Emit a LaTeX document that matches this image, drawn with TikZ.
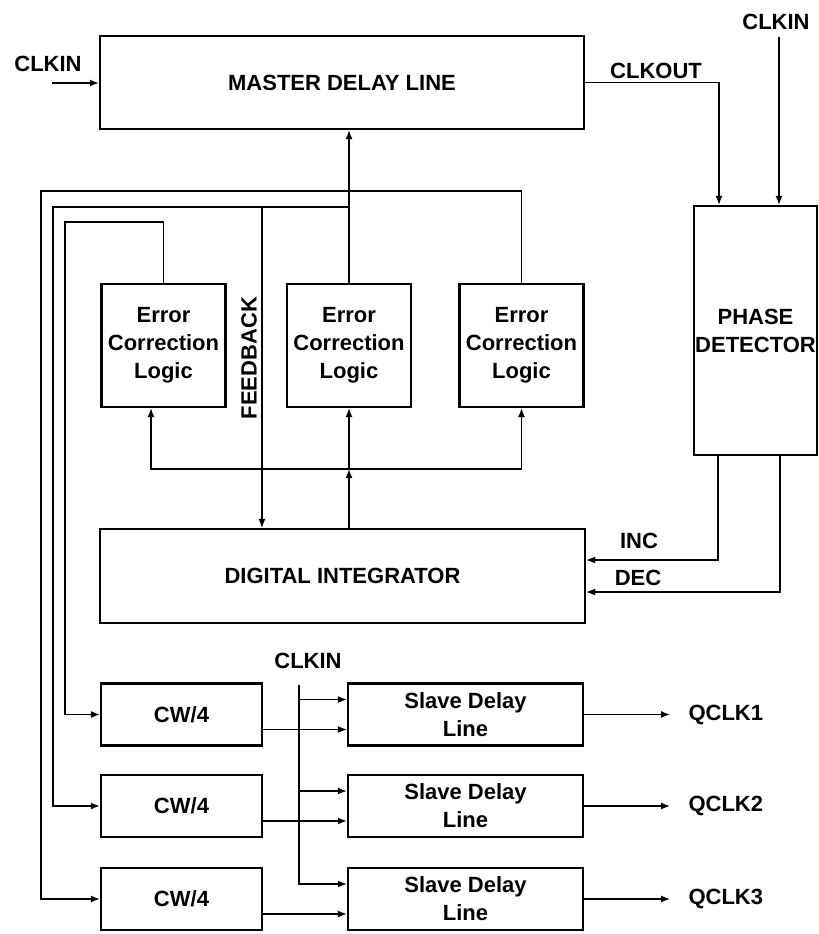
\documentclass[tikz,border=0pt]{standalone}
\usepackage{fontspec}
\setmainfont{Liberation Sans}
\usetikzlibrary{positioning, arrows.meta, calc}

\begin{document}
\begin{tikzpicture}[
		x=0.5pt, y=-0.5pt,
		font=\fontsize{11}{14}\selectfont\bfseries,
		box/.style={rectangle, draw, line width=1.1pt, inner sep=0pt, align=center},
		master/.style={box, minimum width=242pt, minimum height=46.5pt},
		ecl/.style={box, minimum width=62pt, minimum height=61.5pt},
		cw/.style={box, minimum width=80.5pt, minimum height=31pt},
		slave/.style={box, minimum width=117.5pt, minimum height=31pt},
		arrow/.style={-{Latex[length=4.5pt, width=3.5pt]}, line width=0.75pt},
		lbl/.style={inner sep=0pt},
		]
		\useasboundingbox (0,0) rectangle (819,934);
		
		% Master delay line and phase detector
		\node[master] (master) at (342,82.5) {MASTER DELAY LINE};
		\node[box, minimum width=61.5pt, minimum height=124.5pt] (pd) at (755.5,330.5) {PHASE\\DETECTOR};
		
		% Error correction
		\node[ecl] (ecl1) at (163.5,345.5) {Error\\Correction\\Logic};
		\node[ecl] (ecl2) at (349,345.5) {Error\\Correction\\Logic};
		\node[ecl] (ecl3) at (521.5,345.5) {Error\\Correction\\Logic};
		
		% Digital integrator
		\node[master, minimum width=242.5pt, minimum height=47pt] (di) at (342.5,576) {DIGITAL INTEGRATOR};
		
		% CW/4 and slave lines
		\node[cw] (cw1) at (181.5,714.5) {CW/4};
		\node[cw] (cw2) at (181.5,806) {CW/4};
		\node[cw] (cw3) at (181.5,899) {CW/4};
		\node[slave] (sdl1) at (465.5,714.5) {Slave Delay\\Line};
		\node[slave] (sdl2) at (465.5,806) {Slave Delay\\Line};
		\node[slave] (sdl3) at (465.5,899) {Slave Delay\\Line};
		
		% Signal labels
		\node[lbl] (clkinLbl) at (48,64) {CLKIN};
		\node[lbl] (clkoutLbl) at (656,71) {CLKOUT};
		\node[lbl] (clkinTopLbl) at (776,22) {CLKIN};
		\node[lbl] (incLbl) at (639,541) {INC};
		\node[lbl] (decLbl) at (638,578) {DEC};
		\node[lbl, rotate=90] (fbLbl) at (249,358) {FEEDBACK};
		\node[lbl] (clkinBotLbl) at (308,661) {CLKIN};
		
		% Clock into master, out to phase detector
		\coordinate (clkinA) at (52,83);
		\draw[arrow] (clkinA) -- (clkinA -| master.west);
		\draw[arrow] (master.east) -| ($(pd.north)+(-36.5,0)$);
		\coordinate (clkinB) at (779,37);
		\draw[arrow] (clkinB) -- (clkinB |- pd.north);
		
		% INC / DEC
		\draw[arrow] ($(pd.south)+(-37.5,0)$) |- ($(di.east)+(0,-16)$);
		\draw[arrow] ($(pd.south)+(24.5,0)$) |- ($(di.east)+(0,16)$);
		
		% Error correction outputs
		\draw[arrow] (ecl2.north) -- (ecl2.north |- master.south);
		\coordinate (fbA) at (41,191);
		\coordinate (fbB) at (53,207);
		\coordinate (fbC) at (65,222);
		\draw[arrow] (ecl3.north) |- (fbA) |- (cw3.west);
		\draw[arrow] (ecl2.north |- fbB) -- (fbB) |- (cw2.west);
		\draw[arrow] (ecl1.north) |- (fbC) |- (cw1.west);
		
		% Feedback into the integrator
		\coordinate (fbD) at (262,207);
		\draw[arrow] (fbD) -- (fbD |- di.north);
		
		% Integrator to error correction
		\coordinate (bus) at (349,469);
		\draw[arrow] (bus |- di.north) -- (bus);
		\draw[arrow] (bus) -- (bus |- ecl2.south);
		\draw[arrow] (bus) -| ($(ecl1.south)+(-12.5,0)$);
		\draw[arrow] (bus) -| (ecl3.south);
		
		% Slave delay lines
		\coordinate (clkinC) at (299,685);
		\foreach \i in {1,2,3} {
			\node[lbl, anchor=west] (q\i) at ($(sdl\i.east)+(104,0)$) {QCLK\i};
			\coordinate (ck\i) at ($(sdl\i.west)+(0,-15)$);
			\draw[arrow] ($(cw\i.east)+(0,15)$) -- ($(sdl\i.west)+(0,15)$);
			\draw[arrow] (sdl\i.east) -- ([xshift=-9pt]q\i.west);
		}
		\draw[arrow] (clkinC) |- (ck3);
		\draw[arrow] (clkinC |- ck1) -- (ck1);
		\draw[arrow] (clkinC |- ck2) -- (ck2);
	\end{tikzpicture}
\end{document}
